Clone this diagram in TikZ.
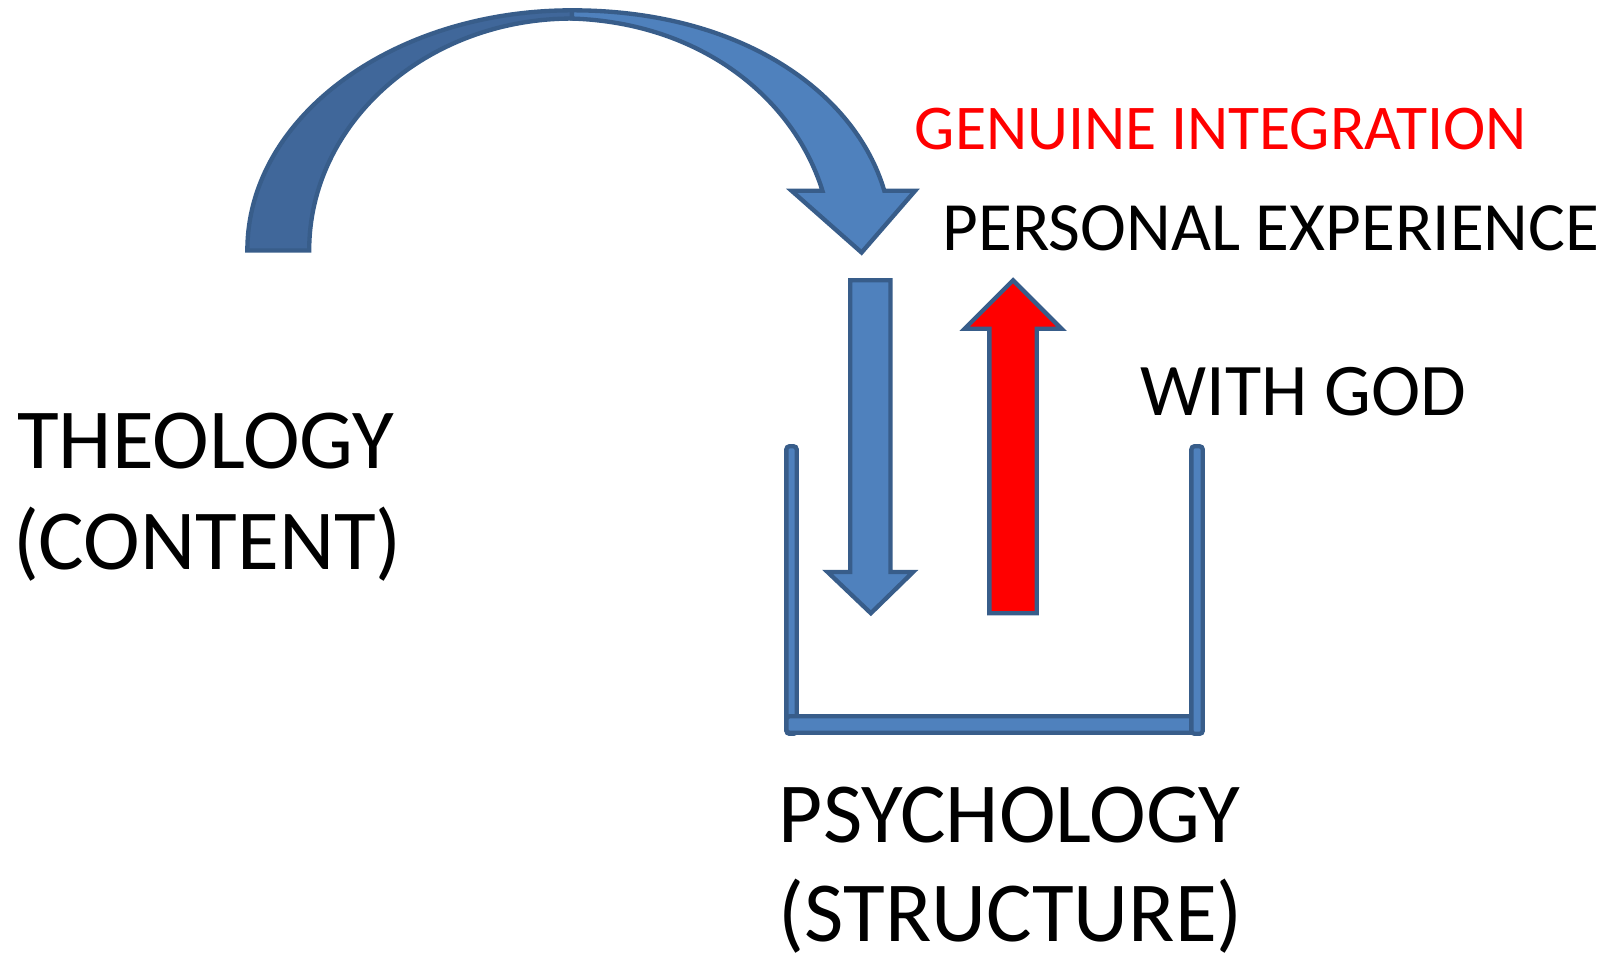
\documentclass[tikz,border=0pt]{standalone}
\usepackage{fontspec}
\setmainfont{Carlito}
\definecolor{fillblue}{HTML}{4F81BD}
\definecolor{darkblue}{HTML}{40679A}
\definecolor{edgeblue}{HTML}{385D8A}
\begin{document}
\begin{tikzpicture}[x=0.1mm,y=-0.1mm,
  shp/.style={draw=edgeblue,line width=0.42mm,line join=miter,fill=fillblue},
  lbl/.style={anchor=base west,inner sep=0pt,font=\fontsize{23.6}{28}\selectfont},
  sml/.style={anchor=base west,inner sep=0pt,font=\fontsize{19.1}{24}\selectfont}]
\useasboundingbox (0,0) rectangle (1568,928);
% curved arrow, left (shaded) half
\draw[shp,fill=darkblue] (240,243) .. controls (240,114) and (381,10) .. (555,10)
  -- (555,18) .. controls (414,18) and (300,119) .. (300,243) -- cycle;
% curved arrow, right half with head
\draw[shp] (555,10) .. controls (720,10) and (830,90) .. (858,185) -- (888,185) -- (836,245)
  -- (768,185) -- (798,185) .. controls (770,95) and (680,22) .. (555,18) -- cycle;
% down arrow
\draw[shp] (825,272) -- (864,272) -- (864,555) -- (886,555) -- (845,595) -- (803,555) -- (825,555) -- cycle;
% red up arrow
\draw[shp,fill=red] (960,595) -- (1006,595) -- (1006,319) -- (1030,319) -- (983,272) -- (936,319) -- (960,319) -- cycle;
% container
\draw[shp,rounded corners=0.3mm] (763,433) rectangle (773,712);
\draw[shp,rounded corners=0.3mm] (763,695) rectangle (1167,711);
\draw[shp,rounded corners=0.3mm] (1156,433) rectangle (1167,712);
% texts
\node[lbl] (theo) at (16,455) {THEOLOGY};
\node[lbl] (cont) at (12,553) {(CONTENT)};
\node[lbl] (psy) at (755,817) {PSYCHOLOGY};
\node[lbl] (struc) at (755,914) {(STRUCTURE)};
\node[sml,text=red,font=\fontsize{17.6}{22}\selectfont] (gen) at (887,145) {GENUINE INTEGRATION};
\node[sml] (pers) at (914,243) {PERSONAL EXPERIENCE};
\node[lbl,font=\fontsize{20.5}{26}\selectfont] (god) at (1106,403) {WITH GOD};
\end{tikzpicture}
\end{document}
